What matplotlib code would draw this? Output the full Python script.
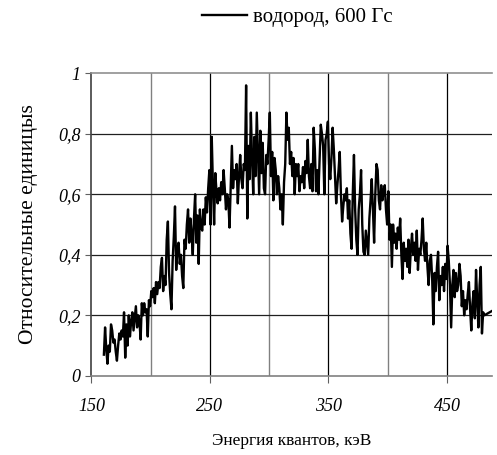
import matplotlib.pyplot as plt
import numpy as np

plt.rcParams['font.family'] = ['Liberation Serif', 'DejaVu Serif']

# energy, keV (step 1 keV) and relative intensity
energy_start = 160.5
intensity = [
    0.07, 0.16, 0.09, 0.04, 0.10, 0.08, 0.17, 0.15, 0.11, 0.12,
    0.08, 0.05, 0.10, 0.14, 0.12, 0.15, 0.13, 0.21, 0.06, 0.17,
    0.10, 0.20, 0.13, 0.18, 0.21, 0.15, 0.19, 0.23, 0.16, 0.20,
    0.18, 0.12, 0.24, 0.20, 0.24, 0.21, 0.22, 0.13, 0.25, 0.23,
    0.28, 0.26, 0.29, 0.24, 0.31, 0.27, 0.31, 0.29, 0.36, 0.39,
    0.28, 0.33, 0.30, 0.45, 0.51, 0.34, 0.27, 0.22, 0.38, 0.46,
    0.56, 0.35, 0.42, 0.44, 0.37, 0.40, 0.33, 0.29, 0.45, 0.42,
    0.50, 0.55, 0.44, 0.52, 0.47, 0.40, 0.52, 0.60, 0.44, 0.53,
    0.37, 0.55, 0.49, 0.48, 0.55, 0.50, 0.59, 0.54, 0.62, 0.68,
    0.50, 0.79, 0.63, 0.50, 0.67, 0.61, 0.57, 0.62, 0.58, 0.64,
    0.60, 0.68, 0.62, 0.55, 0.60, 0.58, 0.49, 0.63, 0.76, 0.62,
    0.68, 0.65, 0.70, 0.57, 0.66, 0.73, 0.65, 0.62, 0.70, 0.68,
    0.96, 0.52, 0.76, 0.65, 0.87, 0.72, 0.60, 0.79, 0.66, 0.87,
    0.74, 0.60, 0.81, 0.67, 0.77, 0.62, 0.60, 0.73, 0.70, 0.78,
    0.87, 0.66, 0.74, 0.58, 0.72, 0.68, 0.60, 0.66, 0.62, 0.55,
    0.60, 0.50, 0.64, 0.70, 0.87, 0.78, 0.82, 0.70, 0.74, 0.66,
    0.72, 0.60, 0.70, 0.66, 0.70, 0.61, 0.66, 0.64, 0.69, 0.62,
    0.71, 0.67, 0.78, 0.66, 0.62, 0.70, 0.61, 0.82, 0.75, 0.61,
    0.68, 0.60, 0.72, 0.83, 0.80, 0.76, 0.60, 0.78, 0.80, 0.84,
    0.70, 0.65, 0.72, 0.82, 0.75, 0.66, 0.57, 0.63, 0.68, 0.74,
    0.60, 0.51, 0.56, 0.60, 0.58, 0.62, 0.52, 0.58, 0.47, 0.42,
    0.60, 0.73, 0.55, 0.45, 0.40, 0.55, 0.60, 0.68, 0.50, 0.41,
    0.40, 0.48, 0.44, 0.40, 0.52, 0.58, 0.65, 0.55, 0.44, 0.60,
    0.70, 0.68, 0.58, 0.55, 0.63, 0.58, 0.61, 0.63, 0.55, 0.50,
    0.61, 0.45, 0.50, 0.36, 0.50, 0.44, 0.47, 0.42, 0.49, 0.45,
    0.52, 0.40, 0.32, 0.44, 0.38, 0.42, 0.36, 0.45, 0.34, 0.42,
    0.47, 0.40, 0.44, 0.38, 0.48, 0.35, 0.42, 0.40, 0.45, 0.52,
    0.42, 0.38, 0.44, 0.36, 0.30, 0.38, 0.40, 0.32, 0.17, 0.34,
    0.28, 0.36, 0.41, 0.25, 0.33, 0.30, 0.36, 0.28, 0.37, 0.32,
    0.43, 0.38, 0.30, 0.16, 0.30, 0.35, 0.26, 0.34, 0.28, 0.30,
    0.37, 0.33, 0.23, 0.28, 0.20, 0.25, 0.22, 0.27, 0.31, 0.22,
    0.15, 0.24, 0.28, 0.19, 0.35, 0.25, 0.16, 0.30, 0.36, 0.14,
    0.21, 0.20,
]
energy = list(energy_start + np.arange(len(intensity)))
# trailing point of the curve, beyond the right edge of the axes
energy.append(495.0)
intensity = intensity + [0.23]

xticks = [150, 250, 350, 450]
yticks = [0, 0.2, 0.4, 0.6, 0.8, 1.0]
ytick_labels = ['0', '0,2', '0,4', '0,6', '0,8', '1']

fig = plt.figure(figsize=(4.97, 4.55), dpi=100)
ax = fig.add_axes([0.184, 0.174, 0.806, 0.665])

ax.plot(energy, intensity, color='black', lw=1.7, label='водород, 600 Гс')

ax.set_xlim(150, 488)
ax.set_ylim(0, 1)

# grid: every 50 keV vertical, every 0.2 horizontal
for e in [200, 300, 400]:
    ax.axvline(e, color='#808080', lw=1.0, zorder=0)
for e in [250, 350, 450]:
    ax.axvline(e, color='black', lw=0.9, zorder=0)
for v in [0.2, 0.4, 0.6, 0.8]:
    ax.axhline(v, color='#202020', lw=0.9, zorder=0)

ax.set_xticks(xticks)
ax.set_xticklabels([str(t) for t in xticks], fontstyle='italic', fontsize=13)
ax.set_yticks(yticks)
ax.set_yticklabels(ytick_labels, fontstyle='italic', fontsize=13)
ax.tick_params(axis='x', direction='out', length=5, width=0.8, pad=11, color='#606060')
ax.tick_params(axis='y', direction='out', length=4, width=0.8, pad=4, color='#606060')

ax.spines['top'].set_color('#909090')
ax.spines['right'].set_visible(False)
ax.spines['bottom'].set_color('#808080')
ax.spines['left'].set_color('#404040')
for s in ax.spines.values():
    s.set_linewidth(1.2)

ax.set_xlabel('Энергия квантов, кэВ', fontsize=12.5, labelpad=13)
ax.set_ylabel('Относительные единицыs', fontsize=15.5, labelpad=14)

fig.legend(loc='center left', bbox_to_anchor=(0.407, 0.962), frameon=False,
           fontsize=15, handlelength=2.15, handletextpad=0.3, borderpad=0,
           borderaxespad=0)

fig.savefig('out.png', dpi=100)
